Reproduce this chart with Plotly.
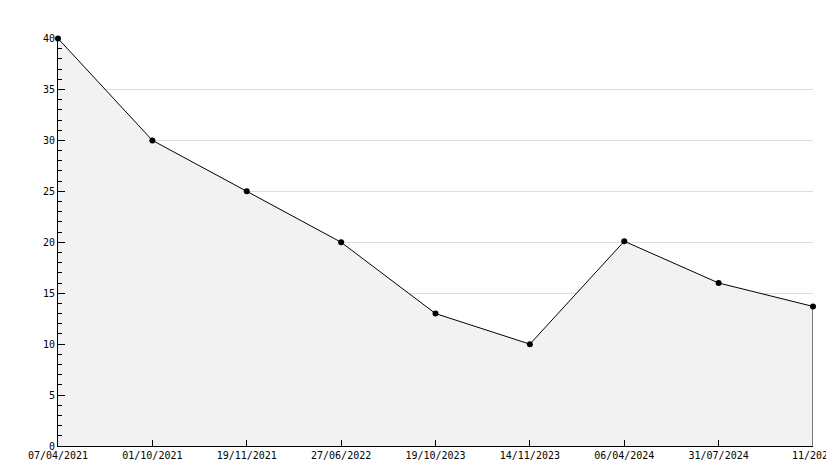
import plotly.graph_objects as go

dates = ["07/04/2021", "01/10/2021", "19/11/2021", "27/06/2022", "19/10/2023",
         "14/11/2023", "06/04/2024", "31/07/2024", "11/2025"]
values = [40, 30, 25, 20, 13, 10, 20.1, 16, 13.7]
xs = list(range(len(dates)))

fig = go.Figure()
fig.add_trace(go.Scatter(x=xs, y=values, mode="lines+markers", fill="tozeroy",
                         fillcolor="#f2f2f2", line=dict(color="black", width=1),
                         marker=dict(color="black", size=6, symbol="circle"),
                         cliponaxis=False, hoverinfo="skip"))
fig.add_trace(go.Scatter(x=[xs[-1], xs[-1]], y=[values[-1], 0], mode="lines",
                         line=dict(color="black", width=1), hoverinfo="skip"))
fig.update_layout(
    width=834, height=468, showlegend=False,
    margin=dict(l=50, r=29, t=30, b=30),
    plot_bgcolor="white", paper_bgcolor="white",
    font=dict(family="DejaVu Sans Mono", size=10, color="black"),
    xaxis=dict(range=[0, 8], tickmode="array", tickvals=xs, ticktext=dates,
               automargin=False,
               showgrid=False, zeroline=False, showline=True, linecolor="black",
               ticks="inside", ticklen=6, tickcolor="black"),
    yaxis=dict(range=[0, 40.05], dtick=5, showgrid=True, gridcolor="#dddddd",
               automargin=False,
               zeroline=False, showline=True, linecolor="black",
               ticks="inside", ticklen=7, tickcolor="black",
               minor=dict(dtick=1, ticks="inside", ticklen=4, tickcolor="black", showgrid=False)),
)
fig.write_html("out.html")
